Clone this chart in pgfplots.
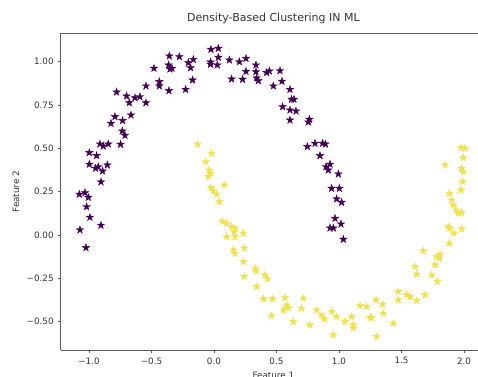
\documentclass[border=0pt]{standalone}
\usepackage{fontspec}
\setmainfont{DejaVu Sans}
\usepackage{pgfplots}
\pgfplotsset{compat=1.18}
\definecolor{vpurple}{HTML}{440154}
\definecolor{vyellow}{RGB}{238,226,80}
\definecolor{spine}{RGB}{90,90,90}
\pgfdeclareplotmark{mstar}{%
  \pgfmathsetlengthmacro\rin{0.382*\pgfplotmarksize}%
  \pgfpathmoveto{\pgfpointpolar{90}{\pgfplotmarksize}}%
  \pgfpathlineto{\pgfpointpolar{126}{\rin}}%
  \pgfpathlineto{\pgfpointpolar{162}{\pgfplotmarksize}}%
  \pgfpathlineto{\pgfpointpolar{198}{\rin}}%
  \pgfpathlineto{\pgfpointpolar{234}{\pgfplotmarksize}}%
  \pgfpathlineto{\pgfpointpolar{270}{\rin}}%
  \pgfpathlineto{\pgfpointpolar{306}{\pgfplotmarksize}}%
  \pgfpathlineto{\pgfpointpolar{342}{\rin}}%
  \pgfpathlineto{\pgfpointpolar{18}{\pgfplotmarksize}}%
  \pgfpathlineto{\pgfpointpolar{54}{\rin}}%
  \pgfpathclose
  \pgfusepathqfillstroke
}
\begin{document}
\begin{tikzpicture}
\path[use as bounding box] (0,0) rectangle (478pt,376pt);
\begin{axis}[
  at={(60.7pt,26pt)}, anchor=south west,
  scale only axis, width=417.3pt, height=316.7pt,
  xmin=-1.226, xmax=2.112, ymin=-0.664, ymax=1.164,
  axis x line=box, axis y line=left,
  axis line style={spine, line width=0.7pt, -},
  xtick pos=bottom, ytick pos=left,
  tick style={spine, line width=0.6pt},
  tick align=outside, major tick length=3pt,
  xtick={-1,-0.5,0,0.5,1,1.5,2},
  xticklabels={−1.0,−0.5,0.0,0.5,1.0,1.5,2.0},
  ytick={-0.5,-0.25,0,0.25,0.5,0.75,1},
  yticklabels={−0.50,−0.25,0.00,0.25,0.50,0.75,1.00},
  ticklabel style={font=\fontsize{8.8}{10}\selectfont, text=black!80},
  xticklabel style={yshift=-1pt},
  yticklabel style={xshift=-0.5pt},
  title={Density-Based Clustering IN ML},
  title style={font=\fontsize{11}{13}\selectfont, text=black!80, at={(axis description cs:0.5,1)}, anchor=base, xshift=4pt, yshift=6pt},
  xlabel={Feature 1},
  xlabel style={font=\fontsize{8.8}{10}\selectfont, text=black!80, at={(axis description cs:0.5,0)}, anchor=north, xshift=4pt, yshift=-18.5pt},
  ylabel={Feature 2},
  every axis y label/.style={at={(axis description cs:-0.1071,0.5)}, rotate=90, anchor=center, font=\fontsize{8.8}{10}\selectfont, text=black!80},
  clip=false,
]
\addplot[only marks, mark=mstar, mark size=3.9pt, draw=vpurple, fill=vpurple, line width=0.45pt] coordinates {
(-1.077,0.235) (-1.032,0.244) (-1.005,0.217) (-1.019,0.163) (-0.992,0.102)
(-1.072,0.029) (-1.024,-0.073) (-0.904,0.056) (-0.997,0.475) (-0.939,0.458)
(-0.997,0.408) (-0.947,0.385) (-0.925,0.394) (-0.891,0.369) (-0.853,0.404)
(-0.912,0.525) (-0.885,0.513) (-0.845,0.525) (-0.904,0.306) (-0.747,0.523)
(-0.779,0.825) (-0.792,0.683) (-0.824,0.644) (-0.731,0.660) (-0.733,0.600)
(-0.712,0.575) (-0.699,0.802) (-0.677,0.763) (-0.664,0.692) (-0.632,0.792)
(-0.592,0.798) (-0.544,0.860) (-0.544,0.763) (-0.480,0.962) (-0.437,0.885)
(-0.437,0.860) (-0.363,0.981) (-0.357,1.033) (-0.352,0.958) (-0.336,0.962)
(-0.360,0.833) (-0.277,1.029) (-0.227,0.840) (-0.205,0.994) (-0.187,0.965)
(-0.165,1.013) (-0.171,0.894) (-0.024,1.071) (0.035,1.077) (-0.027,0.998)
(-0.027,0.985) (0.027,0.981) (0.035,1.025) (0.123,1.010) (0.141,0.900)
(0.203,1.000) (0.229,0.898) (0.256,1.019) (0.256,0.944) (0.336,0.981)
(0.336,0.942) (0.341,0.906) (0.355,0.890) (0.421,0.937) (0.443,0.946)
(0.475,0.860) (0.528,0.948) (0.544,0.887) (0.608,0.840) (0.621,0.783)
(0.640,0.783) (0.549,0.740) (0.608,0.721) (0.656,0.715) (0.608,0.663)
(0.763,0.667) (0.755,0.652) (0.747,0.510) (0.808,0.529) (0.869,0.529)
(0.891,0.525) (0.848,0.458) (0.896,0.394) (0.928,0.408) (0.915,0.375)
(0.995,0.352) (0.941,0.269) (1.003,0.269) (0.981,0.208) (1.021,0.188)
(0.968,0.096) (0.928,0.040) (0.955,0.040) (1.016,0.063) (1.035,-0.025)
};
\addplot[only marks, mark=mstar, mark size=3.9pt, draw=vyellow, fill=vyellow, line width=0.45pt] coordinates {
(-0.131,0.523) (-0.019,0.471) (-0.067,0.423) (-0.040,0.375) (-0.024,0.356)
(-0.045,0.337) (0.083,0.288) (-0.024,0.273) (-0.005,0.254) (0.021,0.235)
(0.043,0.192) (0.067,0.077) (0.101,0.067) (0.141,0.048) (0.168,0.038)
(0.163,0.019) (0.101,-0.010) (0.168,-0.010) (0.235,0.010) (0.155,-0.087)
(0.168,-0.106) (0.243,-0.077) (0.235,-0.154) (0.243,-0.240) (0.328,-0.192)
(0.336,-0.208) (0.408,-0.231) (0.429,-0.254) (0.341,-0.298) (0.395,-0.369)
(0.467,-0.369) (0.461,-0.465) (0.568,-0.362) (0.581,-0.404) (0.555,-0.433)
(0.595,-0.419) (0.635,-0.500) (0.715,-0.365) (0.701,-0.423) (0.768,-0.519)
(0.821,-0.433) (0.861,-0.462) (0.883,-0.485) (0.955,-0.577) (0.941,-0.442)
(0.981,-0.471) (1.048,-0.500) (1.101,-0.471) (1.115,-0.519) (1.115,-0.538)
(1.168,-0.408) (1.221,-0.413) (1.248,-0.477) (1.261,-0.477) (1.301,-0.587)
(1.296,-0.375) (1.349,-0.400) (1.355,-0.452) (1.435,-0.510) (1.475,-0.327)
(1.475,-0.375) (1.541,-0.346) (1.568,-0.356) (1.621,-0.379) (1.608,-0.183)
(1.621,-0.227) (1.675,-0.092) (1.688,-0.346) (1.741,-0.231) (1.768,-0.173)
(1.787,-0.269) (1.781,-0.125) (1.803,-0.135) (1.808,-0.112) (1.883,-0.048)
(1.875,0.048) (1.888,0.038) (1.920,0.010) (1.981,0.035) (1.848,0.404)
(1.883,0.240) (1.901,0.202) (1.915,0.173) (1.936,0.144) (1.955,0.125)
(1.981,0.131) (1.976,0.260) (1.989,0.308) (1.981,0.385) (1.995,0.365)
(1.995,0.446) (1.976,0.504) (2.008,0.500)
};
\end{axis}
\end{tikzpicture}
\end{document}
